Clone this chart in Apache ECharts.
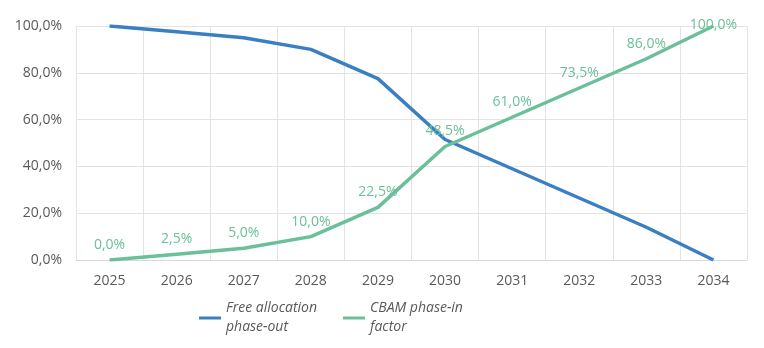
<!DOCTYPE html>
<html><head><meta charset="utf-8">
<script src="https://cdn.jsdelivr.net/npm/echarts@6/dist/echarts.min.js"></script>
<style>html,body{margin:0;padding:0;background:#fff}#c{width:764px;height:348px}</style>
</head><body><div id="c"></div>
<script>
var years = ['2025','2026','2027','2028','2029','2030','2031','2032','2033','2034'];
var freeAllocation = [100, 97.5, 95, 90, 77.5, 51.5, 39, 26.5, 14, 0];
var cbamPhaseIn = [0, 2.5, 5, 10, 22.5, 48.5, 61, 73.5, 86, 100];
var seriesNames = ['Free allocation\nphase-out', 'CBAM phase-in\nfactor'];
function pct(v){ return v.toFixed(1).replace('.', ',') + '%'; }
var font = '"Open Sans", sans-serif';
var cbamData = cbamPhaseIn.map(function(v){
  // labels at the top edge are kept inside the plot area (as in the original)
  return v >= 100 ? {value: v, label: {offset: [0, 14]}} : v;
});
var chart = echarts.init(document.getElementById('c'));
chart.setOption({
  animation: false,
  grid: {left: 76, right: 17, top: 26, bottom: 88},
  legend: {
    bottom: 6, left: 194, itemWidth: 22, itemHeight: 3, itemGap: 26,
    icon: 'rect',
    textStyle: {fontFamily: font, fontSize: 14, fontStyle: 'italic', color: '#595959', lineHeight: 19},
    data: seriesNames
  },
  xAxis: {
    type: 'category', data: years, boundaryGap: true,
    axisLine: {lineStyle: {color: '#d9d9d9'}},
    axisTick: {show: false},
    splitLine: {show: true, lineStyle: {color: '#e3e3e3'}},
    axisLabel: {fontFamily: font, fontSize: 14, color: '#595959', margin: 14}
  },
  yAxis: {
    type: 'value', min: 0, max: 100, interval: 20,
    axisLine: {show: true, lineStyle: {color: '#e3e3e3'}},
    splitLine: {lineStyle: {color: '#e3e3e3'}},
    axisLabel: {fontFamily: font, fontSize: 14, color: '#595959', margin: 14, formatter: pct}
  },
  series: [
    {name: seriesNames[0], type: 'line', data: freeAllocation, symbol: 'none',
     lineStyle: {color: '#3a7fc1', width: 3.5}, itemStyle: {color: '#3a7fc1'}},
    {name: seriesNames[1], type: 'line', data: cbamData, symbol: 'circle', symbolSize: 0, showSymbol: true,
     lineStyle: {color: '#6bbf99', width: 3.5}, itemStyle: {color: '#6bbf99'},
     label: {show: true, position: 'top', distance: 8, fontFamily: font, fontSize: 14, color: '#6bbf99',
       formatter: function(p){ return pct(p.value); }}}
  ]
});
</script></body></html>
